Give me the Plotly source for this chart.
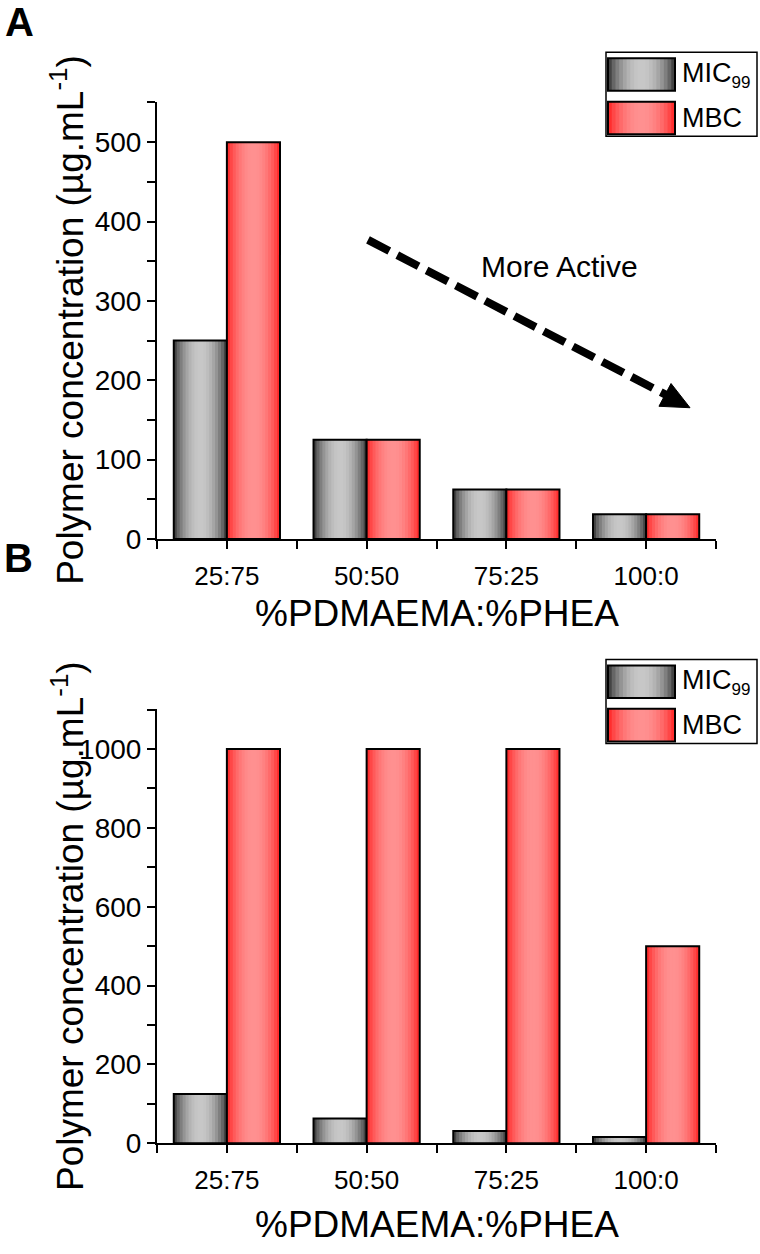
import math
import plotly.graph_objects as go

# ---------------- data ----------------
categories = ["25:75", "50:50", "75:25", "100:0"]
mic_a = [250, 125, 62.5, 31.25]
mbc_a = [500, 125, 62.5, 31.25]
mic_b = [125, 62.5, 31.25, 15.6]
mbc_b = [1000, 1000, 1000, 500]
series_names = ["MIC<sub><span style='font-size:17px'>99</span></sub>", "MBC"]
yticks_a = [0, 100, 200, 300, 400, 500]
yminor_a = [50, 150, 250, 350, 450, 550]
yticks_b = [0, 200, 400, 600, 800, 1000]
yminor_b = [100, 300, 500, 700, 900, 1100]
xlabel = "%PDMAEMA:%PHEA"
ylabel = "Polymer concentration (µg.mL<sup>-1</sup>)"

# ---------------- styling ----------------
W, H = 760, 1254
FONT = "Liberation Sans, Arial, sans-serif"
N = 18
BAR_W = 0.38


def px(x):
    return x / W


def py(y):
    return 1 - y / H


def prof(t):
    return math.sin(math.pi * t) ** 0.7


def gray(t):
    v = int(40 + (200 - 40) * prof(t))
    return f"rgb({v},{v},{v})"


def red(t):
    v = int(25 + (145 - 25) * prof(t))
    return f"rgb(255,{v},{v})"


xpos = list(range(len(categories)))
fig = go.Figure()


def add_series(values, offset, colorfn, xa, ya):
    for i in range(N):
        t = (i + 0.5) / N
        w = BAR_W / N * (1.6 if i < N - 1 else 1.0)
        fig.add_trace(go.Bar(
            x=xpos, y=values, offset=offset + i * BAR_W / N, width=w,
            marker=dict(color=colorfn(t), line=dict(width=0)),
            xaxis=xa, yaxis=ya, showlegend=False, hoverinfo="skip"))
    fig.add_trace(go.Bar(
        x=xpos, y=values, offset=offset, width=BAR_W,
        marker=dict(color="rgba(0,0,0,0)", line=dict(color="black", width=2)),
        xaxis=xa, yaxis=ya, showlegend=False, hoverinfo="skip"))


add_series(mic_a, -BAR_W, gray, "x", "y")
add_series(mbc_a, 0, red, "x", "y")
add_series(mic_b, -BAR_W, gray, "x2", "y2")
add_series(mbc_b, 0, red, "x2", "y2")

common_x = dict(
    range=[-0.5, 3.5], tickvals=xpos, ticktext=categories,
    ticks="outside", ticklen=8, tickwidth=2, tickcolor="black",
    showline=True, linecolor="black", linewidth=2,
    showgrid=False, zeroline=False, ticklabelstandoff=5,
    tickfont=dict(family=FONT, size=26, color="black"),
    minor=dict(tickvals=[-0.5, 0.5, 1.5, 2.5, 3.5], ticks="outside",
               ticklen=8, tickwidth=2, tickcolor="black", showgrid=False),
)
common_y = dict(
    ticks="outside", ticklen=8, tickwidth=2, tickcolor="black",
    showline=True, linecolor="black", linewidth=2,
    showgrid=False, zeroline=False,
    tickfont=dict(family=FONT, size=28, color="black"),
)

shapes = []
annotations = []


def legend(top):
    # box
    shapes.append(dict(type="rect", xref="paper", yref="paper",
                       x0=px(606), x1=px(757), y0=py(top), y1=py(top + 85),
                       line=dict(color="black", width=1.5), fillcolor="white",
                       layer="above"))
    for k, fn in enumerate([gray, red]):
        y0 = top + 6 + k * 44
        y1 = y0 + 33
        sx0, sx1 = 608, 675
        for i in range(N):
            t = (i + 0.5) / N
            a = sx0 + (sx1 - sx0) * i / N
            b = sx0 + (sx1 - sx0) * (i + 1.6) / N if i < N - 1 else sx1
            shapes.append(dict(type="rect", xref="paper", yref="paper",
                               x0=px(a), x1=px(b), y0=py(y1), y1=py(y0),
                               line=dict(width=0), fillcolor=fn(t), layer="above"))
        shapes.append(dict(type="rect", xref="paper", yref="paper",
                           x0=px(sx0), x1=px(sx1), y0=py(y1), y1=py(y0),
                           line=dict(color="black", width=2), layer="above"))
        annotations.append(dict(xref="paper", yref="paper", x=px(680), y=py((y0 + y1) / 2),
                                text=series_names[k], showarrow=False,
                                xanchor="left", yanchor="middle",
                                font=dict(family=FONT, size=27, color="black")))


legend(53)
legend(668)

# axis titles
for ycen, xt in [(324, 621), (938, 1240)]:
    annotations.append(dict(xref="paper", yref="paper", x=px(68), y=py(ycen),
                            text=ylabel, textangle=-90, showarrow=False,
                            xanchor="center", yanchor="middle",
                            font=dict(family=FONT, size=37, color="black")))
    annotations.append(dict(xref="paper", yref="paper", x=px(437), y=py(xt),
                            text=xlabel, showarrow=False,
                            xanchor="center", yanchor="middle",
                            font=dict(family=FONT, size=37, color="black")))

# panel letters
annotations.append(dict(xref="paper", yref="paper", x=px(19), y=py(22), text="<b>A</b>",
                        showarrow=False, xanchor="center", yanchor="middle",
                        font=dict(family=FONT, size=40, color="black")))
annotations.append(dict(xref="paper", yref="paper", x=px(18), y=py(565), text="<b>B</b>",
                        showarrow=False, xanchor="center", yanchor="middle",
                        font=dict(family=FONT, size=40, color="black")))

# "More Active" arrow
annotations.append(dict(xref="paper", yref="paper", x=px(559), y=py(270), text="More Active",
                        showarrow=False, xanchor="center", yanchor="middle",
                        font=dict(family=FONT, size=30, color="black")))
shapes.append(dict(type="line", xref="paper", yref="paper",
                   x0=px(368), y0=py(243), x1=px(668), y1=py(401),
                   line=dict(color="black", width=8, dash="24px,9px")))
tip = (690, 413)
bc = (665, 400)
shapes.append(dict(type="path", xref="paper", yref="paper",
                   path=(f"M {px(tip[0])},{py(tip[1])} "
                         f"L {px(bc[0] - 0.465 * 13)},{py(bc[1] + 0.886 * 13)} "
                         f"L {px(bc[0] + 0.465 * 13)},{py(bc[1] - 0.886 * 13)} Z"),
                   fillcolor="black", line=dict(color="black", width=1)))

fig.update_layout(
    width=W, height=H,
    margin=dict(l=0, r=0, t=0, b=0),
    paper_bgcolor="white", plot_bgcolor="white",
    barmode="overlay", showlegend=False,
    xaxis=dict(domain=[px(157), px(716)], anchor="y", **common_x),
    yaxis=dict(domain=[py(546), py(103)], anchor="x", range=[0, 551],
               tickvals=yticks_a,
               minor=dict(tickvals=yminor_a, ticks="outside", ticklen=8,
                          tickwidth=2, tickcolor="black", showgrid=False),
               **common_y),
    xaxis2=dict(domain=[px(157), px(716)], anchor="y2", **common_x),
    yaxis2=dict(domain=[py(1158), py(718)], anchor="x2", range=[0, 1102],
                tickvals=yticks_b,
                minor=dict(tickvals=yminor_b, ticks="outside", ticklen=8,
                           tickwidth=2, tickcolor="black", showgrid=False),
                **common_y),
    shapes=shapes,
    annotations=annotations,
)

fig.write_html("out.html",
               config={"displayModeBar": False},
               post_script="document.body.style.margin='0';document.body.style.overflow='hidden';")
